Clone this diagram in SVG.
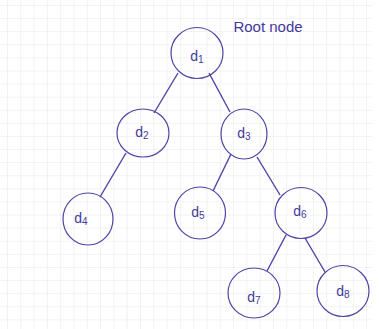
<svg xmlns="http://www.w3.org/2000/svg" width="379" height="329" viewBox="0 0 379 329">
<defs>
<pattern id="grid" x="7" y="5" width="13.3" height="13.1" patternUnits="userSpaceOnUse">
<path d="M0 0H13.3M0 0V13.1" fill="none" stroke="#e6e6e6" stroke-width="1"/>
</pattern>
<style>
.n{fill:none;stroke:#4b45a6;stroke-width:1.2}
.e{stroke:#4b45a6;stroke-width:1.4;fill:none}
.t{font-family:"Liberation Sans",sans-serif;font-size:14px;fill:#3f3a9a;text-anchor:middle}
.s{font-size:10px}
</style>
</defs>
<rect width="379" height="329" fill="#ffffff"/>
<rect x="0" y="0" width="372" height="329" fill="url(#grid)"/>
<text x="268" y="32" font-family="Liberation Sans, sans-serif" font-size="15" fill="#3f3a9a" text-anchor="middle">Root node</text>
<g id="connectors">
<line class="e" x1="178" y1="73" x2="154" y2="113"/>
<line class="e" x1="209" y1="73" x2="230" y2="112"/>
<line class="e" x1="126" y1="153" x2="100" y2="197"/>
<line class="e" x1="231" y1="154" x2="213" y2="191"/>
<line class="e" x1="257" y1="157" x2="280" y2="195"/>
<line class="e" x1="286" y1="235" x2="267" y2="271"/>
<line class="e" x1="305" y1="238" x2="325" y2="272"/>
</g>
<g id="d1"><ellipse class="n" cx="197" cy="53" rx="26" ry="25.5"/><text class="t" x="197" y="61">d<tspan class="s" dy="2">1</tspan></text></g>
<g id="d2"><ellipse class="n" cx="143" cy="133" rx="26" ry="24"/><text class="t" x="142" y="137">d<tspan class="s" dy="2">2</tspan></text></g>
<g id="d3"><ellipse class="n" cx="244" cy="134" rx="23" ry="25"/><text class="t" x="244" y="138">d<tspan class="s" dy="2">3</tspan></text></g>
<g id="d4"><ellipse class="n" cx="88" cy="219" rx="25" ry="26"/><text class="t" x="81" y="223">d<tspan class="s" dy="2">4</tspan></text></g>
<g id="d5"><ellipse class="n" cx="200" cy="213" rx="25.5" ry="26"/><text class="t" x="198" y="217">d<tspan class="s" dy="2">5</tspan></text></g>
<g id="d6"><ellipse class="n" cx="301" cy="213" rx="26" ry="25.5"/><text class="t" x="300" y="216">d<tspan class="s" dy="2">6</tspan></text></g>
<g id="d7"><ellipse class="n" cx="254" cy="293" rx="26" ry="25" /><text class="t" x="254" y="302">d<tspan class="s" dy="2">7</tspan></text></g>
<g id="d8"><ellipse class="n" cx="343" cy="291" rx="26" ry="25.5"/><text class="t" x="343" y="296">d<tspan class="s" dy="2">8</tspan></text></g>
</svg>
